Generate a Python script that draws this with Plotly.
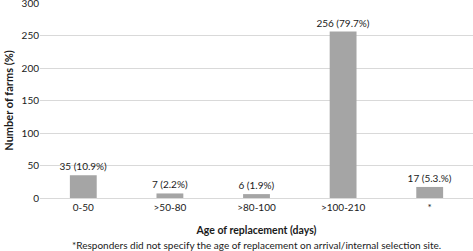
import plotly.graph_objects as go

categories = ["0-50", ">50-80", ">80-100", ">100-210", "*"]
farms = [35, 7, 6, 256, 17]
labels = ["35 (10.9%)", "7 (2.2%)", "6 (1.9%)", "256 (79.7%)", "17 (5.3.%)"]
y_ticks = [0, 50, 100, 150, 200, 250, 300]

FONT = "Lato, Open Sans, sans-serif"
TXT = "#1a1a1a"

fig = go.Figure(go.Bar(
    x=categories, y=farms, text=labels, textposition="outside",
    constraintext="none",
    marker=dict(color="#a5a5a5", line=dict(width=0)),
    textfont=dict(family=FONT, size=10, color=TXT),
    cliponaxis=False,
    hoverinfo="skip",
))

fig.update_layout(
    width=473, height=251,
    margin=dict(l=40, r=0, t=3, b=53, autoexpand=False),
    plot_bgcolor="white", paper_bgcolor="white",
    bargap=0.69,
    showlegend=False,
    font=dict(family=FONT, size=10, color=TXT),
    xaxis=dict(
        automargin=False,
        tickfont=dict(family=FONT, size=10, color=TXT),
        showgrid=False, showline=True, linecolor="#d9d9d9", linewidth=1,
        ticks="", ticklen=0,
        title=dict(text="<b>Age of replacement (days)</b>", font=dict(family=FONT, size=10.5, color=TXT), standoff=14),
    ),
    yaxis=dict(
        automargin=False,
        range=[0, 300], tickvals=y_ticks,
        ticklabeloverflow="allow",
        tickfont=dict(family=FONT, size=10, color=TXT),
        showgrid=True, gridcolor="#d9d9d9", gridwidth=1, zeroline=False,
        ticks="",
        title=dict(text="<b>Number of farms (%)</b>", font=dict(family=FONT, size=11, color=TXT), standoff=5),
    ),
    annotations=[dict(
        text="*Responders did not specify the age of replacement on arrival/internal selection site.",
        xref="paper", yref="paper", x=0.5, y=-0.243, xanchor="center", yanchor="middle",
        showarrow=False, font=dict(family=FONT, size=10, color=TXT),
    )],
)

fig.write_html("out.html", config={"displayModeBar": False},
               post_script="document.body.style.margin='0';document.body.style.padding='0';")
